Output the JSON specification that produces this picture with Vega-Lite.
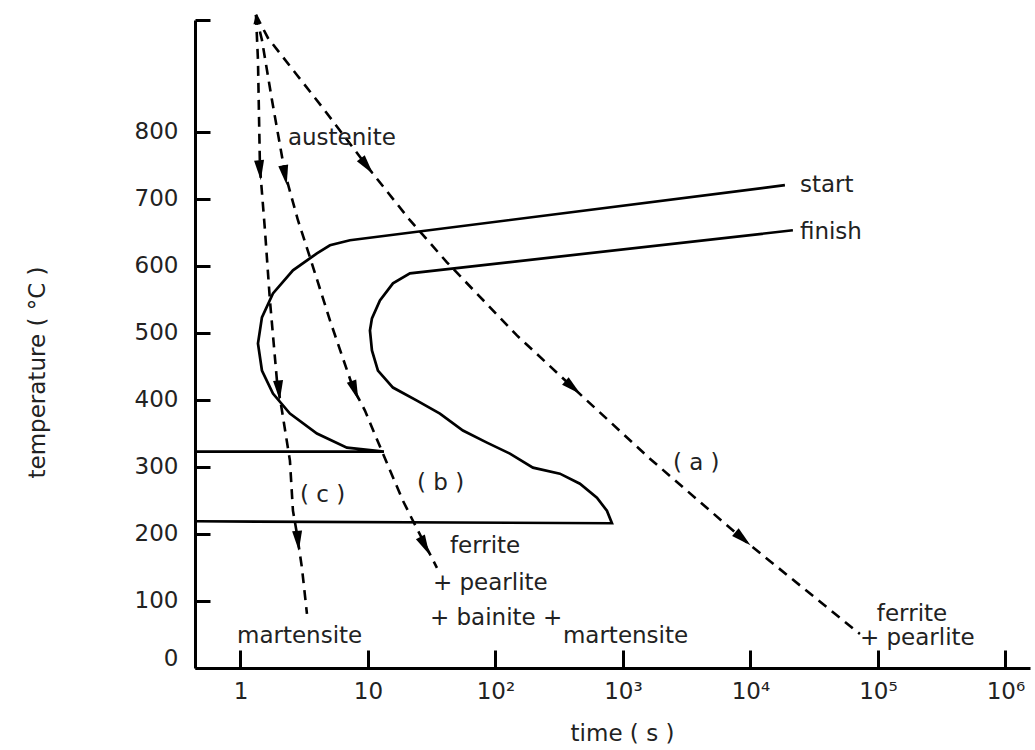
{
  "$schema": "https://vega.github.io/schema/vega-lite/v6.json",
  "width": 835,
  "height": 648,
  "autosize": "none",
  "padding": {"left": 195, "top": 20, "right": 5, "bottom": 82},
  "background": "white",
  "config": {"view": {"stroke": null}, "font": "DejaVu Sans"},
  "datasets": {
    "curves": [
      {"curve": "start", "t": 0.44, "T": 323},
      {"curve": "start", "t": 13.35, "T": 323},
      {"curve": "start", "t": 6.84, "T": 328.8},
      {"curve": "start", "t": 3.98, "T": 349.8},
      {"curve": "start", "t": 2.444, "T": 379.7},
      {"curve": "start", "t": 1.799, "T": 409.6},
      {"curve": "start", "t": 1.474, "T": 443.9},
      {"curve": "start", "t": 1.372, "T": 484.3},
      {"curve": "start", "t": 1.474, "T": 523.2},
      {"curve": "start", "t": 1.799, "T": 559.0},
      {"curve": "start", "t": 2.581, "T": 593.4},
      {"curve": "start", "t": 3.98, "T": 618.8},
      {"curve": "start", "t": 5.035, "T": 630.8},
      {"curve": "start", "t": 7.224, "T": 638.3},
      {"curve": "start", "t": 18650, "T": 720.5},
      {"curve": "finish", "t": 0.44, "T": 219},
      {"curve": "finish", "t": 820, "T": 216},
      {"curve": "finish", "t": 749, "T": 234.7},
      {"curve": "finish", "t": 625.2, "T": 254.1},
      {"curve": "finish", "t": 460, "T": 275.0},
      {"curve": "finish", "t": 320.4, "T": 290.0},
      {"curve": "finish", "t": 196.9, "T": 299.0},
      {"curve": "finish", "t": 129.9, "T": 319.9},
      {"curve": "finish", "t": 85.8, "T": 336.3},
      {"curve": "finish", "t": 55.6, "T": 354.3},
      {"curve": "finish", "t": 36.7, "T": 379.7},
      {"curve": "finish", "t": 24.23, "T": 399.1},
      {"curve": "finish", "t": 15.71, "T": 418.5},
      {"curve": "finish", "t": 11.98, "T": 443.9},
      {"curve": "finish", "t": 10.75, "T": 473.8},
      {"curve": "finish", "t": 10.37, "T": 503.7},
      {"curve": "finish", "t": 10.75, "T": 521.7},
      {"curve": "finish", "t": 12.42, "T": 548.6},
      {"curve": "finish", "t": 15.71, "T": 574.0},
      {"curve": "finish", "t": 21.35, "T": 588.9},
      {"curve": "finish", "t": 21540, "T": 653.2},
      {"curve": "c", "t": 1.323, "T": 974.6},
      {"curve": "c", "t": 1.372, "T": 907.3},
      {"curve": "c", "t": 1.422, "T": 747.4},
      {"curve": "c", "t": 1.557, "T": 653.2},
      {"curve": "c", "t": 1.703, "T": 548.6},
      {"curve": "c", "t": 1.933, "T": 429.0},
      {"curve": "c", "t": 2.116, "T": 384.2},
      {"curve": "c", "t": 2.444, "T": 309.4},
      {"curve": "c", "t": 2.581, "T": 234.7},
      {"curve": "c", "t": 2.774, "T": 200.3},
      {"curve": "c", "t": 3.036, "T": 149.5},
      {"curve": "c", "t": 3.324, "T": 80.7},
      {"curve": "b", "t": 1.323, "T": 974.6},
      {"curve": "b", "t": 1.474, "T": 937.2},
      {"curve": "b", "t": 1.767, "T": 847.5},
      {"curve": "b", "t": 2.234, "T": 738.4},
      {"curve": "b", "t": 2.825, "T": 668.2},
      {"curve": "b", "t": 3.509, "T": 612.9},
      {"curve": "b", "t": 5.035, "T": 518.7},
      {"curve": "b", "t": 7.627, "T": 418.5},
      {"curve": "b", "t": 9.473, "T": 384.2},
      {"curve": "b", "t": 13.11, "T": 319.9},
      {"curve": "b", "t": 18.81, "T": 249.6},
      {"curve": "b", "t": 22.54, "T": 219.7},
      {"curve": "b", "t": 34.77, "T": 149.5},
      {"curve": "a", "t": 1.323, "T": 974.6},
      {"curve": "a", "t": 1.643, "T": 940.2},
      {"curve": "a", "t": 2.774, "T": 884.9},
      {"curve": "a", "t": 4.436, "T": 835.6},
      {"curve": "a", "t": 9.822, "T": 749.0},
      {"curve": "a", "t": 21.35, "T": 668.2},
      {"curve": "a", "t": 41.66, "T": 605.4},
      {"curve": "a", "t": 147.4, "T": 496.3},
      {"curve": "a", "t": 405.3, "T": 418.5},
      {"curve": "a", "t": 1629, "T": 312.4},
      {"curve": "a", "t": 9057, "T": 189.8},
      {"curve": "a", "t": 72250, "T": 50.8}
    ],
    "arrows": [
      {"arrow": "c", "t": 1.422, "T": 742.9},
      {"arrow": "c", "t": 2.004, "T": 414.1},
      {"arrow": "c", "t": 2.825, "T": 189.8},
      {"arrow": "b1", "t": 2.234, "T": 735.4},
      {"arrow": "b2", "t": 7.907, "T": 414.1},
      {"arrow": "b3", "t": 27.99, "T": 182.4},
      {"arrow": "a1", "t": 9.822, "T": 749.0},
      {"arrow": "a2", "t": 405.3, "T": 418.5},
      {"arrow": "a2", "t": 8737, "T": 193.0},
      {"arrow": "top", "t": 1.323, "T": 968}
    ],
    "labels": [
      {"text": "austenite", "t": 2.358, "T": 790.7},
      {"text": "start", "t": 24450, "T": 720.5},
      {"text": "finish", "t": 24450, "T": 650.2},
      {"text": "( a )", "t": 2466, "T": 306.4},
      {"text": "( b )", "t": 24.23, "T": 276.5},
      {"text": "( c )", "t": 2.928, "T": 258.6},
      {"text": "ferrite", "t": 43.97, "T": 182.4},
      {"text": "+ pearlite", "t": 32.34, "T": 127.1},
      {"text": "+ bainite +", "t": 30.64, "T": 74.7},
      {"text": "martensite", "t": 0.939, "T": 47.8},
      {"text": "martensite", "t": 338.3, "T": 47.8},
      {"text": "ferrite", "t": 98180, "T": 80.7},
      {"text": "+ pearlite", "t": 72250, "T": 44.8}
    ]
  },
  "encoding": {
    "x": {
      "field": "t",
      "type": "quantitative",
      "scale": {"type": "log", "domain": [0.44, 1560000], "nice": false},
      "axis": {
        "values": [1, 10, 100, 1000, 10000, 100000, 1000000],
        "labelExpr": "datum.value==1?'1':datum.value==10?'10':datum.value==100?'10²':datum.value==1000?'10³':datum.value==10000?'10⁴':datum.value==100000?'10⁵':'10⁶'",
        "title": "time ( s )",
        "grid": false,
        "ticks": true,
        "tickSize": -18,
        "tickWidth": 3,
        "tickColor": "black",
        "domainColor": "black",
        "domainWidth": 3,
        "labelPadding": 30,
        "labelFontSize": 23,
        "labelColor": "#222",
        "labelFont": "DejaVu Sans",
        "labelFlush": false,
        "labelOverlap": false,
        "titleFont": "DejaVu Sans",
        "titleFontSize": 23,
        "titleFontWeight": "normal",
        "titleColor": "#222",
        "titleX": 427,
        "titleY": 65,
        "titleBaseline": "middle",
        "titleAlign": "center"
      }
    },
    "y": {
      "field": "T",
      "type": "quantitative",
      "scale": {"domain": [0, 967], "nice": false, "zero": false},
      "axis": {
        "values": [0, 100, 200, 300, 400, 500, 600, 700, 800, 967],
        "labelExpr": "datum.value>850?'':datum.label",
        "title": "temperature ( °C )",
        "grid": false,
        "ticks": true,
        "tickSize": -15,
        "tickWidth": 3,
        "tickColor": "black",
        "domainColor": "black",
        "domainWidth": 3,
        "labelPadding": 32,
        "labelOffset": {"condition": {"test": "datum.value==0", "value": -10}, "value": 0},
        "labelFontSize": 23,
        "labelColor": "#222",
        "labelFont": "DejaVu Sans",
        "labelFlush": false,
        "labelOverlap": false,
        "titleFont": "DejaVu Sans",
        "titleFontSize": 23,
        "titleFontWeight": "normal",
        "titleColor": "#222",
        "titleX": -158,
        "titleY": 352,
        "titleBaseline": "middle",
        "titleAlign": "center",
        "titleAngle": -90
      }
    }
  },
  "layer": [
    {
      "data": {"name": "curves"},
      "transform": [{"filter": "datum.curve=='start'||datum.curve=='finish'"}],
      "mark": {"type": "line", "color": "black", "strokeWidth": 2.7},
      "encoding": {"detail": {"field": "curve"}, "order": {"value": null}}
    },
    {
      "data": {"name": "curves"},
      "transform": [{"filter": "datum.curve=='a'||datum.curve=='b'||datum.curve=='c'"}],
      "mark": {"type": "line", "color": "black", "strokeWidth": 2.6, "strokeDash": [10, 7]},
      "encoding": {"detail": {"field": "curve"}, "order": {"value": null}}
    },
    {
      "data": {"name": "arrows"},
      "transform": [{"filter": "datum.arrow=='c'"}],
      "mark": {"type": "point", "shape": "M-0.5,-1L0.5,-1L0,1Z", "filled": true, "color": "black", "opacity": 1, "size": 400, "angle": -5}
    },
    {
      "data": {"name": "arrows"},
      "transform": [{"filter": "datum.arrow=='b1'"}],
      "mark": {"type": "point", "shape": "M-0.5,-1L0.5,-1L0,1Z", "filled": true, "color": "black", "opacity": 1, "size": 400, "angle": -10}
    },
    {
      "data": {"name": "arrows"},
      "transform": [{"filter": "datum.arrow=='b2'"}],
      "mark": {"type": "point", "shape": "M-0.5,-1L0.5,-1L0,1Z", "filled": true, "color": "black", "opacity": 1, "size": 400, "angle": -20}
    },
    {
      "data": {"name": "arrows"},
      "transform": [{"filter": "datum.arrow=='b3'"}],
      "mark": {"type": "point", "shape": "M-0.5,-1L0.5,-1L0,1Z", "filled": true, "color": "black", "opacity": 1, "size": 400, "angle": -27}
    },
    {
      "data": {"name": "arrows"},
      "transform": [{"filter": "datum.arrow=='a1'"}],
      "mark": {"type": "point", "shape": "M-0.5,-1L0.5,-1L0,1Z", "filled": true, "color": "black", "opacity": 1, "size": 400, "angle": -38}
    },
    {
      "data": {"name": "arrows"},
      "transform": [{"filter": "datum.arrow=='a2'"}],
      "mark": {"type": "point", "shape": "M-0.5,-1L0.5,-1L0,1Z", "filled": true, "color": "black", "opacity": 1, "size": 400, "angle": -49}
    },
    {
      "data": {"name": "arrows"},
      "transform": [{"filter": "datum.arrow=='top'"}],
      "mark": {"type": "point", "shape": "M-0.5,1L0.5,1L0,-1Z", "filled": true, "color": "black", "opacity": 1, "size": 100, "angle": 0}
    },
    {
      "data": {"name": "labels"},
      "mark": {"type": "text", "align": "left", "baseline": "middle", "font": "DejaVu Sans", "fontSize": 23, "color": "#222"},
      "encoding": {"text": {"field": "text"}}
    }
  ]
}
